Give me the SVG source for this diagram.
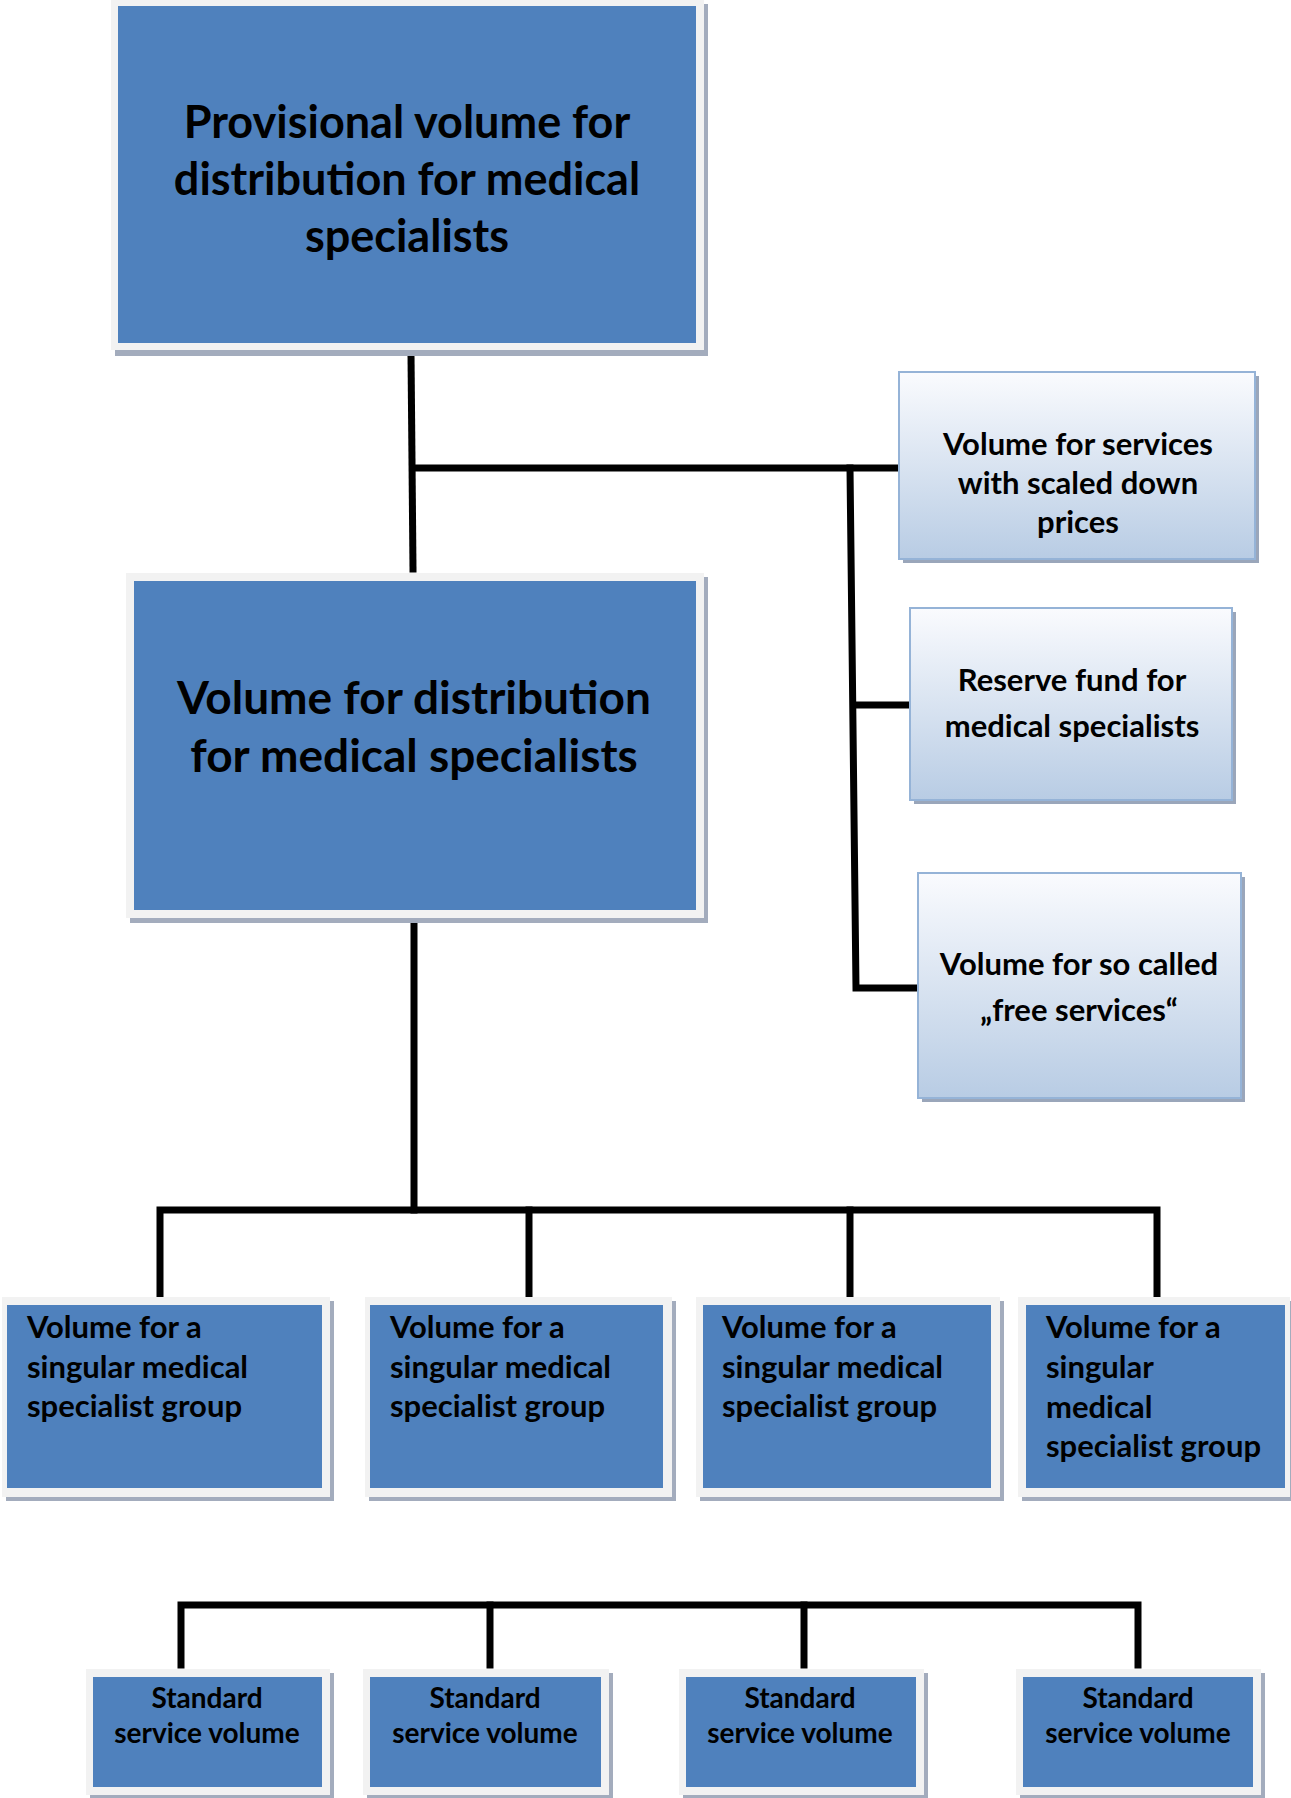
<svg xmlns="http://www.w3.org/2000/svg" width="1291" height="1798" viewBox="0 0 1291 1798">
<defs>
<linearGradient id="lg" x1="0" y1="0" x2="0" y2="1">
<stop offset="0" stop-color="#fafbfe"/>
<stop offset="1" stop-color="#b8cce4"/>
</linearGradient>
<style>
.frame{fill:#f2f2f2;}
.blue{fill:#4f81bd;}
.shadow{fill:#a3acbd;}
.light{fill:url(#lg);stroke:#95b3d7;stroke-width:2;}
.lshadow{fill:#9aa6ba;}
text{font-family:Lato,"Liberation Sans",sans-serif;font-weight:bold;fill:#000;}
.c{text-anchor:middle;}
.conn{fill:none;stroke:#000;stroke-width:7;stroke-linejoin:miter;stroke-linecap:square;}
</style>
</defs>
<rect width="1291" height="1798" fill="#fff"/>

<g id="connectors">
<path class="conn" d="M411 354 L413 569"/>
<path class="conn" d="M413 468 L895 468"/>
<path class="conn" d="M850 468 L856 988 L915 988"/>
<path class="conn" d="M854 705 L907 705"/>
<path class="conn" d="M414 919 L414 1210"/>
<path class="conn" d="M160 1294 L160 1210 L1157 1210 L1157 1294"/>
<path class="conn" d="M529 1210 L529 1294"/>
<path class="conn" d="M850 1210 L850 1294"/>
<path class="conn" d="M181 1665 L181 1605 L1138 1605 L1138 1665"/>
<path class="conn" d="M490 1605 L490 1665"/>
<path class="conn" d="M804 1605 L804 1665"/>
</g>

<g id="provisional">
<rect class="shadow" x="115" y="4" width="593" height="352"/>
<rect class="frame" x="111" y="-2" width="593" height="352"/>
<rect class="blue" x="118" y="6" width="578" height="337"/>
<text class="c" x="407" y="138" font-size="45">Provisional volume for</text>
<text class="c" x="407" y="195" font-size="45">distribution for medical</text>
<text class="c" x="407" y="252" font-size="45">specialists</text>
</g>

<g id="distribution">
<rect class="shadow" x="130" y="577" width="578" height="346"/>
<rect class="frame" x="126" y="573" width="578" height="345"/>
<rect class="blue" x="134" y="581" width="562" height="329"/>
<text class="c" x="414" y="714" font-size="46">Volume for distribution</text>
<text class="c" x="414" y="772" font-size="46">for medical specialists</text>
</g>

<g id="scaled">
<rect class="lshadow" x="903" y="376" width="356" height="187"/>
<rect class="light" x="899" y="372" width="356" height="187"/>
<text class="c" x="1078" y="455" font-size="31">Volume for services</text>
<text class="c" x="1078" y="494" font-size="31">with scaled down</text>
<text class="c" x="1078" y="533" font-size="31">prices</text>
</g>

<g id="reserve">
<rect class="lshadow" x="914" y="612" width="322" height="192"/>
<rect class="light" x="910" y="608" width="322" height="192"/>
<text class="c" x="1072" y="691" font-size="31">Reserve fund for</text>
<text class="c" x="1072" y="737" font-size="31">medical specialists</text>
</g>

<g id="free">
<rect class="lshadow" x="922" y="877" width="323" height="225"/>
<rect class="light" x="918" y="873" width="323" height="225"/>
<text class="c" x="1079" y="975" font-size="31">Volume for so called</text>
<text class="c" x="1079" y="1021" font-size="31">„free services“</text>
</g>

<g id="group1">
<rect class="shadow" x="6" y="1301" width="328" height="200"/>
<rect class="frame" x="2" y="1297" width="328" height="200"/>
<rect class="blue" x="7" y="1305" width="315" height="183"/>
<text x="27" y="1338" font-size="31">Volume for a</text>
<text x="27" y="1378" font-size="31">singular medical</text>
<text x="27" y="1417" font-size="31">specialist group</text>
</g>

<g id="group2">
<rect class="shadow" x="369" y="1301" width="307" height="200"/>
<rect class="frame" x="365" y="1297" width="307" height="200"/>
<rect class="blue" x="370" y="1305" width="293" height="183"/>
<text x="390" y="1338" font-size="31">Volume for a</text>
<text x="390" y="1378" font-size="31">singular medical</text>
<text x="390" y="1417" font-size="31">specialist group</text>
</g>

<g id="group3">
<rect class="shadow" x="700" y="1301" width="304" height="200"/>
<rect class="frame" x="696" y="1297" width="304" height="200"/>
<rect class="blue" x="703" y="1305" width="288" height="183"/>
<text x="722" y="1338" font-size="31">Volume for a</text>
<text x="722" y="1378" font-size="31">singular medical</text>
<text x="722" y="1417" font-size="31">specialist group</text>
</g>

<g id="group4">
<rect class="shadow" x="1022" y="1301" width="272" height="200"/>
<rect class="frame" x="1018" y="1297" width="272" height="200"/>
<rect class="blue" x="1026" y="1305" width="259" height="183"/>
<text x="1046" y="1338" font-size="31">Volume for a</text>
<text x="1046" y="1378" font-size="31">singular</text>
<text x="1046" y="1418" font-size="31">medical</text>
<text x="1046" y="1457" font-size="31">specialist group</text>
</g>

<g id="standard1">
<rect class="shadow" x="90" y="1673" width="244" height="126"/>
<rect class="frame" x="86" y="1669" width="244" height="126"/>
<rect class="blue" x="93" y="1677" width="229" height="110"/>
<text class="c" x="207" y="1708" font-size="28">Standard</text>
<text class="c" x="207" y="1743" font-size="28">service volume</text>
</g>

<g id="standard2">
<rect class="shadow" x="367" y="1673" width="246" height="126"/>
<rect class="frame" x="363" y="1669" width="246" height="126"/>
<rect class="blue" x="370" y="1677" width="231" height="110"/>
<text class="c" x="485" y="1708" font-size="28">Standard</text>
<text class="c" x="485" y="1743" font-size="28">service volume</text>
</g>

<g id="standard3">
<rect class="shadow" x="683" y="1673" width="245" height="126"/>
<rect class="frame" x="679" y="1669" width="245" height="126"/>
<rect class="blue" x="686" y="1677" width="230" height="110"/>
<text class="c" x="800" y="1708" font-size="28">Standard</text>
<text class="c" x="800" y="1743" font-size="28">service volume</text>
</g>

<g id="standard4">
<rect class="shadow" x="1020" y="1673" width="245" height="126"/>
<rect class="frame" x="1016" y="1669" width="245" height="126"/>
<rect class="blue" x="1023" y="1677" width="230" height="110"/>
<text class="c" x="1138" y="1708" font-size="28">Standard</text>
<text class="c" x="1138" y="1743" font-size="28">service volume</text>
</g>
</svg>
